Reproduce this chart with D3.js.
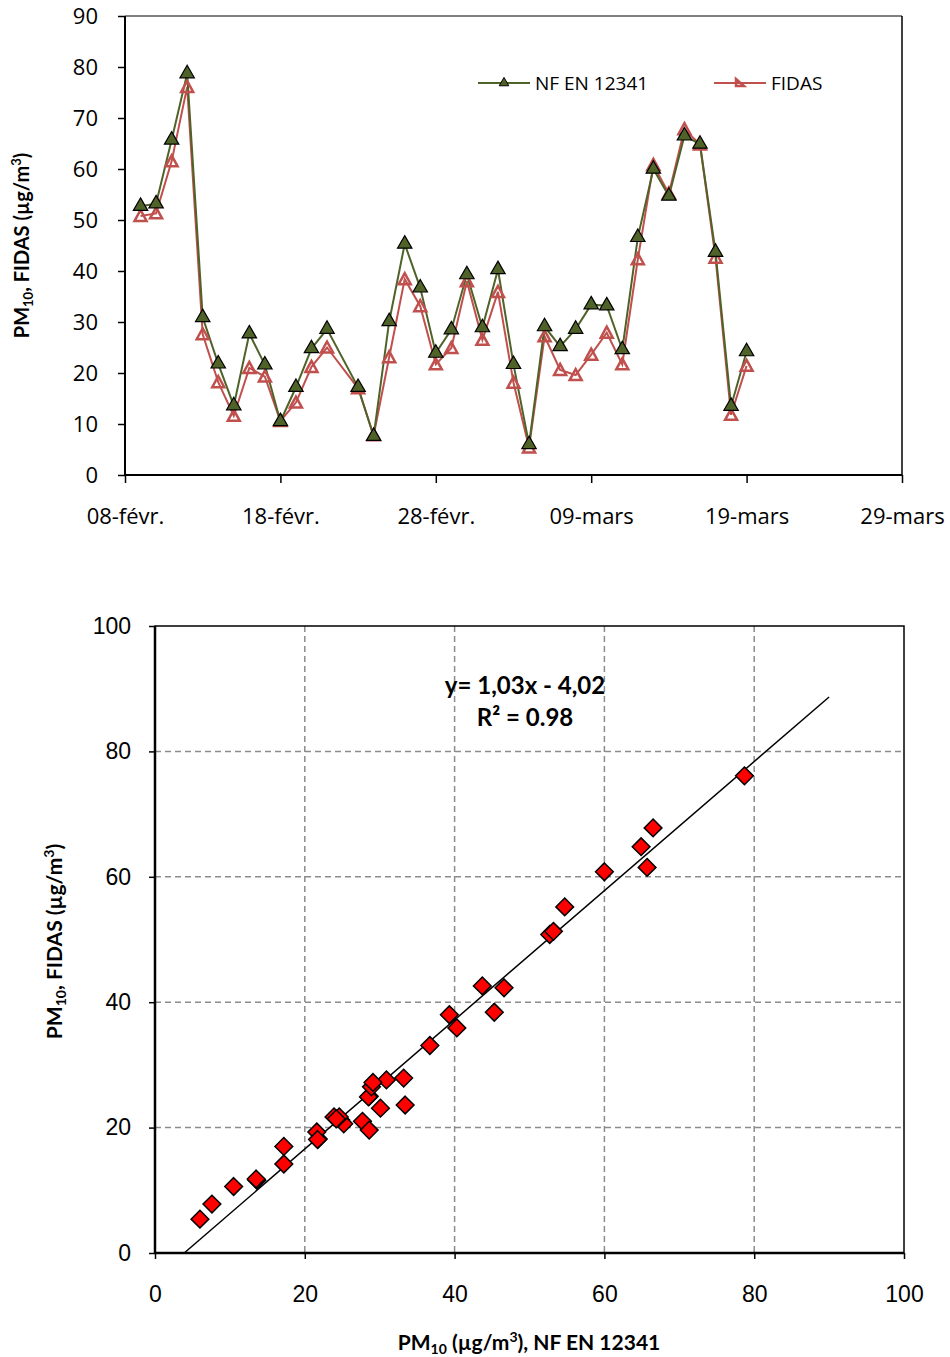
<!DOCTYPE html>
<html>
<head>
<meta charset="utf-8">
<script src="https://cdn.jsdelivr.net/npm/d3@7"></script>
<style>
  body { margin: 0; background: #fff; }
  text { fill: #000; }
</style>
</head>
<body>
<div id="app"></div>
<script>
'use strict'

// days of 2016 with measurements (Feb 22 missing)
const dates = [
  '2016-02-09', '2016-02-10', '2016-02-11', '2016-02-12', '2016-02-13', '2016-02-14', '2016-02-15',
  '2016-02-16', '2016-02-17', '2016-02-18', '2016-02-19', '2016-02-20', '2016-02-21', '2016-02-23',
  '2016-02-24', '2016-02-25', '2016-02-26', '2016-02-27', '2016-02-28', '2016-02-29', '2016-03-01',
  '2016-03-02', '2016-03-03', '2016-03-04', '2016-03-05', '2016-03-06', '2016-03-07', '2016-03-08',
  '2016-03-09', '2016-03-10', '2016-03-11', '2016-03-12', '2016-03-13', '2016-03-14', '2016-03-15',
  '2016-03-16', '2016-03-17', '2016-03-18', '2016-03-19'
]
const nfValues = [52.7, 53.2, 65.7, 78.7, 30.9, 21.8, 13.6, 27.7, 21.6, 10.5, 17.2, 24.8, 28.6, 17.2,
  7.6, 30.1, 45.3, 36.7, 23.9, 28.5, 39.3, 28.9, 40.3, 21.7, 6.0, 29.1, 25.2, 28.6, 33.4, 33.2,
  24.6, 46.6, 60.0, 54.7, 66.5, 64.9, 43.7, 13.5, 24.2]
const fidasValues = [50.8, 51.3, 61.5, 76.1, 27.6, 18.2, 11.6, 21.0, 19.3, 10.6, 14.2, 21.2, 25.0, 17.0,
  7.8, 23.1, 38.4, 33.1, 21.7, 24.9, 38.0, 26.5, 35.9, 18.1, 5.4, 27.2, 20.6, 19.6, 23.6, 27.9,
  21.7, 42.3, 60.8, 55.2, 67.8, 64.8, 42.6, 11.8, 21.4]
const seriesNames = ['NF EN 12341', 'FIDAS']
const timeTicks = ['2016-02-08', '2016-02-18', '2016-02-28', '2016-03-09', '2016-03-19', '2016-03-29']
const monthNames = ['janv.', 'févr.', 'mars', 'avr.']
const lineYTicks = [0, 10, 20, 30, 40, 50, 60, 70, 80, 90]
const scatterTicks = [0, 20, 40, 60, 80, 100]
const slope = 1.03
const intercept = -4.02
const rSquared = 0.98

const parse = d3.utcParse('%Y-%m-%d')
const fmtDate = d => d3.utcFormat('%d')(d) + '-' + monthNames[d.getUTCMonth()]

const calibri = '"Open Sans", Lato, sans-serif'
const calibriBold = 'Lato, "Open Sans", sans-serif'
const arial = '"Liberation Sans", Arial, sans-serif'
const green = '#4F6228'
const red = '#C0504D'

const svg = d3.select('#app').append('svg')
  .attr('width', 950)
  .attr('height', 1357)
  .style('background-color', '#fff')

// PM10 ... (µg/m3) label with sub/superscripts
function pmLabel(t, size, middle, tail) {
  const small = Math.round(size * 0.65) + 'px'
  t.append('tspan').text('PM')
  t.append('tspan').attr('dy', 4).style('font-size', small).text('10')
  t.append('tspan').attr('dy', -4).text(middle)
  t.append('tspan').attr('dy', -8).style('font-size', small).text('3')
  t.append('tspan').attr('dy', 8).text(tail)
}

/*
 * Top chart: time series
 */
const box1 = { l: 125, r: 902, t: 16, b: 475 }
const x = d3.scaleUtc()
  .domain([parse(timeTicks[0]), parse(timeTicks[timeTicks.length - 1])])
  .range([box1.l, box1.r])
const y = d3.scaleLinear().domain([0, 90]).range([box1.b, box1.t])

const g1 = svg.append('g')

// frame top/right
g1.append('line').attr('x1', box1.l).attr('x2', box1.r).attr('y1', box1.t).attr('y2', box1.t)
  .attr('stroke', '#000').attr('stroke-width', 1)
g1.append('line').attr('x1', box1.r).attr('x2', box1.r).attr('y1', box1.t).attr('y2', box1.b)
  .attr('stroke', '#000').attr('stroke-width', 1.5)

const yAxis1 = g1.append('g')
  .attr('transform', `translate(${box1.l},0)`)
  .call(d3.axisLeft(y).tickValues(lineYTicks).tickSize(7).tickPadding(20))
const xAxis1 = g1.append('g')
  .attr('transform', `translate(0,${box1.b})`)
  .call(d3.axisBottom(x).tickValues(timeTicks.map(parse)).tickFormat(fmtDate).tickSize(8).tickPadding(25))

;[yAxis1, xAxis1].forEach(a => {
  a.select('.domain').attr('stroke', '#000').attr('stroke-width', 2)
  a.selectAll('.tick line').attr('stroke', '#000').attr('stroke-width', 1.5)
  a.selectAll('.tick text').style('font-family', calibri).style('font-size', '22px')
})
xAxis1.select('.domain').attr('d', `M${box1.l},0H${box1.r}`)
yAxis1.select('.domain').attr('d', `M0,${box1.b}V${box1.t}`)

g1.append('text')
  .attr('transform', `translate(29,${(box1.t + box1.b) / 2}) rotate(-90)`)
  .attr('text-anchor', 'middle')
  .style('font-family', calibriBold).style('font-weight', 'bold').style('font-size', '20px')
  .call(t => pmLabel(t, 20, ', FIDAS (µg/m', ')'))

const rows = dates.map((d, i) => ({ date: parse(d), nf: nfValues[i], fidas: fidasValues[i] }))

const tri = d3.symbol().type(d3.symbolTriangle).size(90)
// open triangle for FIDAS
const openTri = 'M0,-6L6,5H-6Z'

const line = key => d3.line().x(d => x(d.date)).y(d => y(d[key]))

g1.append('path').datum(rows)
  .attr('d', line('fidas'))
  .attr('fill', 'none').attr('stroke', red).attr('stroke-width', 2)
g1.append('path').datum(rows)
  .attr('d', line('nf'))
  .attr('fill', 'none').attr('stroke', green).attr('stroke-width', 2)

g1.selectAll('.fm').data(rows).enter().append('path')
  .attr('class', 'fm')
  .attr('transform', d => `translate(${x(d.date)},${y(d.fidas)})`)
  .attr('d', openTri)
  .attr('fill', 'none').attr('stroke', red).attr('stroke-width', 2.5)

g1.selectAll('.nm').data(rows).enter().append('path')
  .attr('class', 'nm')
  .attr('transform', d => `translate(${x(d.date)},${y(d.nf)})`)
  .attr('d', tri)
  .attr('fill', green).attr('stroke', '#000').attr('stroke-width', 1.2)

// legend
const legend = g1.append('g').attr('transform', 'translate(0,83)')
const legItems = [
  { name: seriesNames[0], x0: 478, color: green },
  { name: seriesNames[1], x0: 714, color: red }
]
legItems.forEach((it, i) => {
  legend.append('line').attr('x1', it.x0).attr('x2', it.x0 + 52)
    .attr('stroke', it.color).attr('stroke-width', 2)
  legend.append('path')
    .attr('transform', `translate(${it.x0 + 26},0)`)
    .attr('d', i === 0 ? d3.symbol().type(d3.symbolTriangle).size(40)() : 'M-4,-4L4,3H-4Z')
    .attr('fill', i === 0 ? green : 'none')
    .attr('stroke', i === 0 ? '#000' : it.color)
    .attr('stroke-width', i === 0 ? 1 : 2.5)
  legend.append('text').attr('x', it.x0 + 57).attr('dy', '0.35em')
    .style('font-family', calibri).style('font-size', '19px').text(it.name)
})

/*
 * Bottom chart: scatter with regression
 */
const box2 = { l: 155, r: 904, t: 626, b: 1253 }
const sx = d3.scaleLinear().domain([0, 100]).range([box2.l, box2.r])
const sy = d3.scaleLinear().domain([0, 100]).range([box2.b, box2.t])
const g2 = svg.append('g')

// dashed grid
g2.selectAll('.vg').data(scatterTicks.slice(1, -1)).enter().append('line')
  .attr('x1', d => sx(d)).attr('x2', d => sx(d)).attr('y1', box2.t).attr('y2', box2.b)
  .attr('stroke', '#8c8c8c').attr('stroke-width', 1.5).attr('stroke-dasharray', '6,4')
g2.selectAll('.hg').data(scatterTicks.slice(1, -1)).enter().append('line')
  .attr('x1', box2.l).attr('x2', box2.r).attr('y1', d => sy(d)).attr('y2', d => sy(d))
  .attr('stroke', '#8c8c8c').attr('stroke-width', 1.5).attr('stroke-dasharray', '6,4')

g2.append('rect').attr('x', box2.l).attr('y', box2.t)
  .attr('width', box2.r - box2.l).attr('height', box2.b - box2.t)
  .attr('fill', 'none').attr('stroke', '#000').attr('stroke-width', 1.5)

const yAxis2 = g2.append('g').attr('transform', `translate(${box2.l},0)`)
  .call(d3.axisLeft(sy).tickValues(scatterTicks).tickSize(6).tickPadding(18))
const xAxis2 = g2.append('g').attr('transform', `translate(0,${box2.b})`)
  .call(d3.axisBottom(sx).tickValues(scatterTicks).tickSize(6).tickPadding(27))
;[yAxis2, xAxis2].forEach(a => {
  a.select('.domain').attr('stroke', '#000').attr('stroke-width', 2.5)
  a.selectAll('.tick line').attr('stroke', '#000').attr('stroke-width', 1.5)
  a.selectAll('.tick text').style('font-family', arial).style('font-size', '23px')
})
yAxis2.select('.domain').attr('d', `M0,${box2.b}V${box2.t}`)
xAxis2.select('.domain').attr('d', `M${box2.l},0H${box2.r}`)

// regression line from y = 0 to x = 90
const x0 = -intercept / slope
g2.append('line')
  .attr('x1', sx(x0)).attr('y1', sy(slope * x0 + intercept))
  .attr('x2', sx(90)).attr('y2', sy(slope * 90 + intercept))
  .attr('stroke', '#000').attr('stroke-width', 1.5)

g2.selectAll('.pt').data(rows).enter().append('path')
  .attr('class', 'pt')
  .attr('transform', d => `translate(${sx(d.nf)},${sy(d.fidas)})`)
  .attr('d', d3.symbol().type(d3.symbolDiamond2).size(200))
  .attr('fill', '#FF0000').attr('stroke', '#000').attr('stroke-width', 1.5)

const eq = g2.append('g').style('font-family', calibriBold).style('font-weight', 'bold').style('font-size', '24px')
eq.append('text').attr('x', 525).attr('y', 694).attr('text-anchor', 'middle')
  .text(`y= ${String(slope).replace('.', ',')}x - ${intercept.toFixed(2).replace('-', '').replace('.', ',')}`)
eq.append('text').attr('x', 525).attr('y', 726).attr('text-anchor', 'middle')
  .text(`R²  = ${rSquared.toFixed(2)}`)

g2.append('text')
  .attr('x', 529).attr('y', 1350)
  .attr('text-anchor', 'middle')
  .style('font-family', calibriBold).style('font-weight', 'bold').style('font-size', '21px')
  .call(t => pmLabel(t, 21, ' (µg/m', '), ' + seriesNames[0]))

g2.append('text')
  .attr('transform', `translate(62,${(box2.t + box2.b) / 2 + 2}) rotate(-90)`)
  .attr('text-anchor', 'middle')
  .style('font-family', calibriBold).style('font-weight', 'bold').style('font-size', '21px')
  .call(t => pmLabel(t, 21, ', FIDAS (µg/m', ')'))
</script>
</body>
</html>
